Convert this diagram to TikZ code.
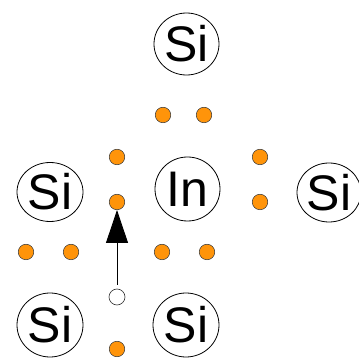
\documentclass[tikz,border=0pt]{standalone}
\usepackage{fontspec}
\setmainfont{Liberation Sans}
\usetikzlibrary{shapes.geometric,arrows.meta}
\definecolor{electron}{RGB}{255,148,10}
\begin{document}
\begin{tikzpicture}[x=1pt,y=-1pt,
  atom/.style={draw=black,line width=0.8pt,ellipse,inner sep=0pt,
    font=\fontsize{50}{50}\selectfont},
  electron/.style={circle,draw=black!80,line width=0.5pt,fill=electron,
    minimum size=15.5pt,inner sep=0pt},
  hole/.style={circle,draw=black!80,line width=0.6pt,fill=white,
    minimum size=16pt,inner sep=0pt},
  hop/.style={line width=0.9pt,-{Triangle[length=33pt,width=22pt]}}]
\useasboundingbox (0,0) rectangle (359,358);
% atoms
\node[atom,minimum width=65pt,minimum height=62pt] (siT) at (186.5,44) {Si};
\node[atom,minimum width=65pt,minimum height=64pt] (in) at (187.5,189) {In};
\node[atom,minimum width=66pt,minimum height=59pt] (siL) at (50,192) {Si};
\node[atom,minimum width=64pt,minimum height=59pt] (siR) at (329,192.5) {Si};
\node[atom,minimum width=66pt,minimum height=64pt] (siBL) at (50,325) {Si};
\node[atom,minimum width=66pt,minimum height=64pt] (siBR) at (186,325) {Si};
% bonding electrons
\node[electron] (e1) at (163,115) {};
\node[electron] (e2) at (204,115) {};
\node[electron] (e3) at (117,157) {};
\node[electron] (e4) at (117,202) {};
\node[electron] (e5) at (260,157) {};
\node[electron] (e6) at (260,202) {};
\node[electron] (e7) at (26,252) {};
\node[electron] (e8) at (71,252) {};
\node[electron] (e9) at (162,252) {};
\node[electron] (e10) at (207,252) {};
\node[electron] (e11) at (117,349) {};
% hole and its motion
\node[hole] (h) at (117,297) {};
\draw[hop,shorten <=4pt] (h.north) -- (e4.south);
\end{tikzpicture}
\end{document}
